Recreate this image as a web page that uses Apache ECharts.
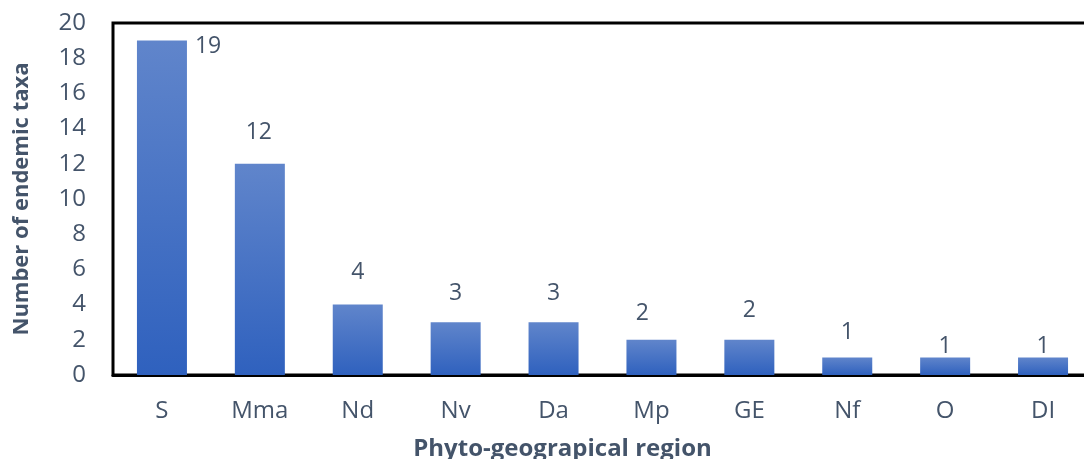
<!DOCTYPE html>
<html>
<head>
<meta charset="utf-8">
<script src="https://cdn.jsdelivr.net/npm/echarts@6/dist/echarts.min.js"></script>
<style>
  html, body { margin: 0; padding: 0; background: #fff; }
  #chart { width: 1084px; height: 459px; }
</style>
</head>
<body>
<div id="chart"></div>
<script>
// Endemic taxa per phyto-geographical region
const regions = ['S', 'Mma', 'Nd', 'Nv', 'Da', 'Mp', 'GE', 'Nf', 'O', 'DI'];
const taxaCounts = [19, 12, 4, 3, 3, 2, 2, 1, 1, 1];
// per-bar data-label placement: [dx, dy] from the bar top
const labelOffsets = [[0, 0], [-1, -15], [0, -16], [0, -12], [0, -12], [-9, -10], [0, -13], [0, -8], [0, 6], [0, 6]];

const textColor = '#44546a';
const fontFamily = '"Open Sans", "Liberation Sans", sans-serif';

const barFill = new echarts.graphic.LinearGradient(0, 0, 0, 1, [
  { offset: 0, color: '#6085cb' },
  { offset: 1, color: '#2f61be' }
]);

const seriesData = taxaCounts.map((v, i) => {
  const item = { value: v };
  if (i === 0) {
    item.label = { position: [58, 6], align: 'left', verticalAlign: 'middle' };
  } else {
    item.label = { offset: labelOffsets[i] };
  }
  return item;
});

const chart = echarts.init(document.getElementById('chart'), null, { renderer: 'canvas' });
chart.setOption({
  animation: false,
  grid: {
    left: 113, top: 23, width: 979, bottom: 84,
    outerBoundsMode: 'none',
    containLabel: false,
    show: true, borderColor: '#000', borderWidth: 3, backgroundColor: 'transparent'
  },
  xAxis: {
    type: 'category',
    data: regions,
    axisLine: { show: true, lineStyle: { color: '#000', width: 3 } },
    axisTick: { show: false },
    axisLabel: { color: textColor, fontSize: 24, fontFamily, margin: 24 },
    name: 'Phyto-geograpical region',
    nameLocation: 'middle',
    nameGap: 62,
    nameTextStyle: { color: textColor, fontSize: 24, fontWeight: 'bold', fontFamily, padding: [0, 80, 0, 0] }
  },
  yAxis: {
    type: 'value',
    min: 0, max: 20, interval: 2,
    axisLine: { show: false },
    axisTick: { show: false },
    splitLine: { show: false },
    axisLabel: { color: textColor, fontSize: 24, fontFamily, margin: 27 },
    name: 'Number of endemic taxa',
    nameLocation: 'middle',
    nameGap: 80,
    nameTextStyle: { color: textColor, fontSize: 22, fontWeight: 'bold', fontFamily }
  },
  series: [{
    type: 'bar',
    data: seriesData,
    barWidth: 50,
    itemStyle: { color: barFill },
    label: {
      show: true,
      position: 'top',
      distance: 5,
      color: textColor,
      fontSize: 23,
      fontFamily
    }
  }]
});
</script>
</body>
</html>
